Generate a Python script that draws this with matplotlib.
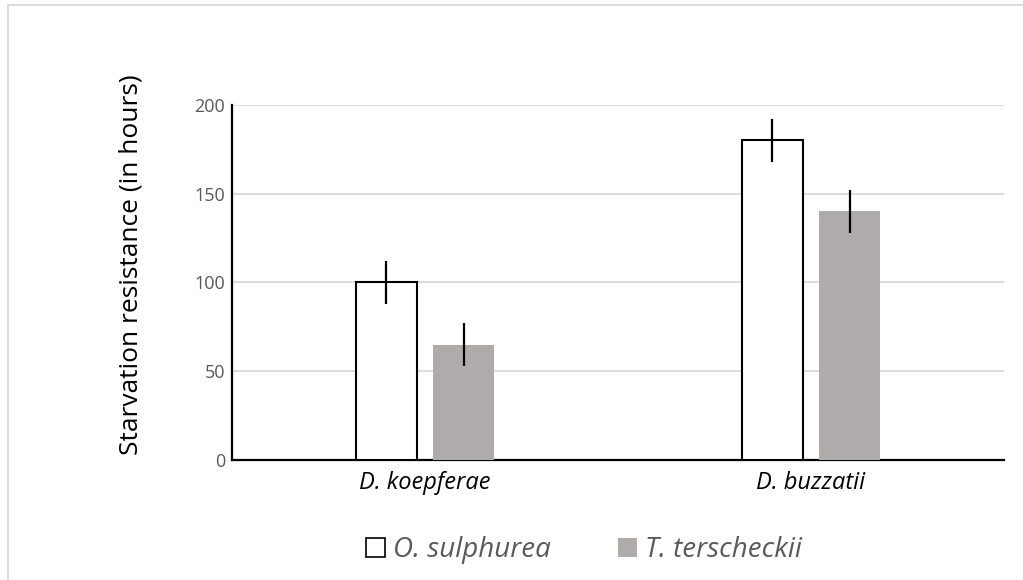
import matplotlib.pyplot as plt
import numpy as np
from matplotlib.patches import Patch, Rectangle

plt.rcParams['font.family'] = ['Open Sans', 'DejaVu Sans']

# data
species = ['D. koepferae', 'D. buzzatii']
hosts = ['O. sulphurea', 'T. terscheckii']
o_sulphurea = [100, 180]
o_sulphurea_err = [12, 12]
t_terscheckii = [65, 140]
t_terscheckii_err = [12, 12]

fig = plt.figure(figsize=(10.23, 5.8), dpi=100)
ax = fig.add_axes([0.2268, 0.2069, 0.7546, 0.6121])

# chart-area border (light grey, like the office chart frame)
fig.patches.append(Rectangle((8 / 1023, -0.1), 1.2, 1 - 5 / 580 + 0.1,
                             transform=fig.transFigure, fill=False,
                             edgecolor='#d9d9d9', linewidth=1.3))

x = np.arange(len(species))
w = 0.158
off = 0.1

ax.bar(x - off, o_sulphurea, w, color='white', edgecolor='black',
       linewidth=1.5, zorder=3)
ax.bar(x + off, t_terscheckii, w, color='#afabab', edgecolor='none', zorder=3)
ax.errorbar(x - off, o_sulphurea, yerr=o_sulphurea_err, fmt='none',
            ecolor='black', elinewidth=1.6, capsize=0, zorder=4)
ax.errorbar(x + off, t_terscheckii, yerr=t_terscheckii_err, fmt='none',
            ecolor='black', elinewidth=1.6, capsize=0, zorder=4)

ax.set_xlim(-0.5, 1.5)
ax.set_ylim(0, 200)
ax.set_yticks([0, 50, 100, 150, 200])
ax.yaxis.grid(True, color='#d9d9d9', linewidth=1.3)
ax.set_axisbelow(True)

for s in ['top', 'right']:
    ax.spines[s].set_visible(False)
for s in ['left', 'bottom']:
    ax.spines[s].set_color('black')
    ax.spines[s].set_linewidth(1.6)

ax.tick_params(axis='y', length=0, labelsize=13, labelcolor='#595959', pad=5)
ax.tick_params(axis='x', length=0, labelsize=17, pad=8)
ax.set_xticks(x)
ax.set_xticklabels(species, style='italic')

ax.set_ylabel('Starvation resistance (in hours)', fontsize=19)
ax.yaxis.set_label_coords(-0.115, 0.55)

handles = [Patch(facecolor='white', edgecolor='black', linewidth=1.2),
           Patch(facecolor='#afabab', edgecolor='none')]
leg = fig.legend(handles, hosts, loc='center', bbox_to_anchor=(0.571, 0.052),
                 ncol=2, frameon=False, handlelength=0.68, handleheight=0.68,
                 handletextpad=0.3, columnspacing=2.4,
                 prop={'style': 'italic', 'size': 20})
for t in leg.get_texts():
    t.set_color('#595959')

fig.savefig('out.png', dpi=100)
